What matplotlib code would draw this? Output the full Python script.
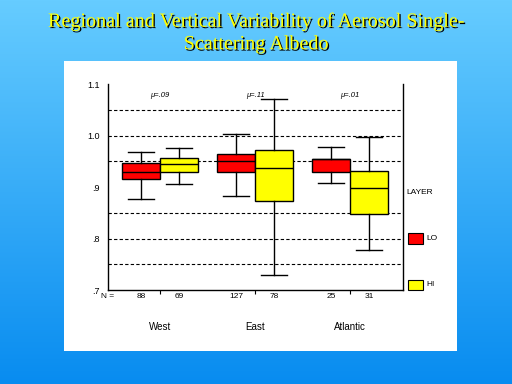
import numpy as np
import matplotlib
matplotlib.use("Agg")
import matplotlib.pyplot as plt
import matplotlib.patheffects as pe
from matplotlib.patches import Rectangle

# ---- data ----
regions = ["West", "East", "Atlantic"]
layers = ["LO", "HI"]
layer_colors = ["#FF0000", "#FFFF00"]
# per box: order West LO, West HI, East LO, East HI, Atl LO, Atl HI
whislo = [0.876, 0.905, 0.882, 0.730, 0.907, 0.777]
q1     = [0.915, 0.930, 0.9285, 0.872, 0.930, 0.847]
med    = [0.9285, 0.944, 0.950, 0.936, 0.954, 0.899]
q3     = [0.946, 0.9557, 0.9634, 0.972, 0.954, 0.9304]
whishi = [0.967, 0.975, 1.002, 1.070, 0.977, 0.9964]
counts = ["88", "69", "127", "78", "25", "31"]
mu_labels = ["\u03bc=.09", "\u03bc=.11", "\u03bc=.01"]
yticks = [0.7, 0.8, 0.9, 1.0, 1.1]
ytick_labels = [".7", ".8", ".9", "1.0", "1.1"]
grid_vals = [0.75, 0.80, 0.85, 0.95, 1.00, 1.05]
title = "Regional and Vertical Variability of Aerosol Single-\nScattering Albedo"

W, H = 512, 384
fig = plt.figure(figsize=(W / 100, H / 100), dpi=100)

# background gradient
bg = fig.add_axes([0, 0, 1, 1], zorder=-10)
top = np.array([102, 204, 255]) / 255
bot = np.array([8, 140, 240]) / 255
t = np.linspace(0, 1, 256)[:, None]
grad = (top[None, :] * (1 - t) + bot[None, :] * t)[:, None, :]
bg.imshow(grad, aspect="auto", extent=[0, 1, 0, 1])
bg.set_axis_off()

def fx(px):
    return px / W

def fy(py):
    return 1 - py / H

# white panel
fig.patches.append(Rectangle((fx(64), fy(351)), fx(457) - fx(64), fy(61) - fy(351),
                             transform=fig.transFigure, facecolor="white",
                             edgecolor="none", zorder=-5))

# title
fig.text(0.5, fy(33), title, ha="center", va="center", fontsize=14.5,
         family="Liberation Serif", color="#FFFF00", linespacing=1.25,
         path_effects=[pe.withSimplePatchShadow(offset=(1, -1), shadow_rgbFace="black", alpha=1.0)])

# main axes
ax = fig.add_axes([fx(107.7), fy(290), fx(403) - fx(107.7), fy(84) - fy(290)])
ax.set_facecolor("none")
ax.set_xlim(0.449, 3.557)
ax.set_ylim(0.7, 1.1)

group_pos = np.arange(1, len(regions) + 1)
offs = [-0.2, 0.2]
positions = []
colors = []
for g in group_pos:
    for j, o in enumerate(offs):
        positions.append(g + o)
        colors.append(layer_colors[j])

stats = []
for i in range(len(positions)):
    stats.append(dict(whislo=whislo[i], q1=q1[i], med=med[i], q3=q3[i], whishi=whishi[i], fliers=[]))

bp = ax.bxp(stats, positions=positions, widths=0.4, patch_artist=True,
            showfliers=False, manage_ticks=False,
            boxprops=dict(linewidth=1.0, edgecolor="black"),
            medianprops=dict(color="black", linewidth=1.0),
            whiskerprops=dict(color="black", linewidth=1.0),
            capprops=dict(color="black", linewidth=1.0),
            capwidths=0.28)
for patch, c in zip(bp["boxes"], colors):
    patch.set_facecolor(c)
for art in bp["boxes"] + bp["medians"] + bp["whiskers"] + bp["caps"]:
    art.set_zorder(3)

for gv in grid_vals:
    ax.axhline(gv, color="black", linewidth=0.8, linestyle=(0, (3, 2)), zorder=1)

ax.spines["top"].set_visible(False)
for s in ["left", "right", "bottom"]:
    ax.spines[s].set_linewidth(1.0)
ax.set_yticks(yticks)
ax.set_yticklabels(ytick_labels, fontsize=6.5, family="Liberation Sans")
ax.tick_params(axis="y", length=0, pad=6)
ax.set_xticks(group_pos)
ax.set_xticklabels([])
ax.tick_params(axis="x", length=3, direction="out", width=0.8)

# mu annotations
for g, m in zip(group_pos, mu_labels):
    ax.text(g, 1.077, m, ha="center", va="center", fontsize=5.5, style="italic",
            family="Liberation Sans")

# counts and N =
trans = ax.get_xaxis_transform()
ax.text(0.0, -0.03, "N =", transform=ax.transAxes,
        ha="center", va="center", fontsize=6, family="Liberation Sans")
for p, c in zip(positions, counts):
    ax.text(p, -0.03, c, transform=trans, ha="center", va="center", fontsize=6,
            family="Liberation Sans")
for g, r in zip(group_pos, regions):
    ax.text(g, -0.18, r, transform=trans, ha="center", va="center", fontsize=7,
            family="Liberation Sans")

# legend
fig.text(fx(406.5), fy(192), "LAYER", ha="left", va="center", fontsize=6, family="Liberation Sans")
leg_y = [(233, 243.5), (279.5, 290)]
for (y0, y1), c, lab in zip(leg_y, layer_colors, layers):
    fig.patches.append(Rectangle((fx(408.3), fy(y1)), fx(423.3) - fx(408.3), fy(y0) - fy(y1),
                                 transform=fig.transFigure, facecolor=c,
                                 edgecolor="black", linewidth=0.8))
    fig.text(fx(426.5), fy((y0 + y1) / 2), lab, ha="left", va="center", fontsize=6,
             family="Liberation Sans")

fig.savefig("out.png", dpi=100)
